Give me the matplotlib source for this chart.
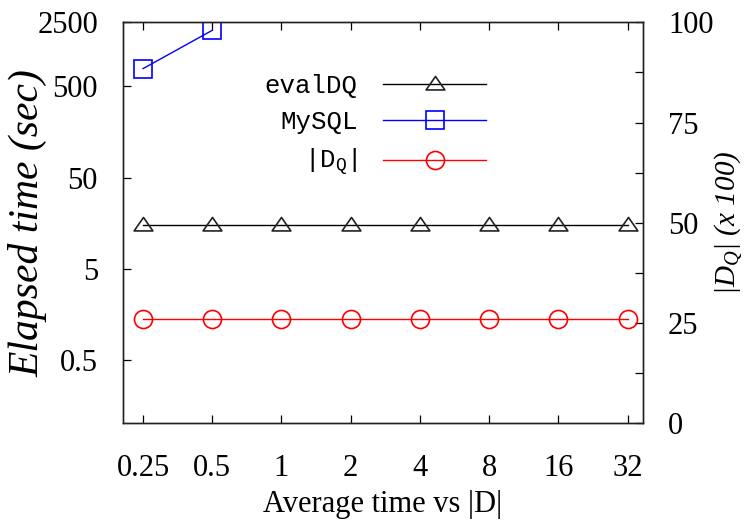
import matplotlib
matplotlib.use("Agg")
import matplotlib.pyplot as plt
from matplotlib.path import Path
from matplotlib.ticker import FixedLocator, NullFormatter

plt.rcParams["font.family"] = ["Liberation Serif", "DejaVu Serif"]
plt.rcParams["mathtext.fontset"] = "custom"
plt.rcParams["mathtext.rm"] = "Liberation Serif"
plt.rcParams["mathtext.it"] = "Liberation Serif:italic"
plt.rcParams["mathtext.tt"] = "Liberation Mono"

# data
x_labels = ["0.25", "0.5", "1", "2", "4", "8", "16", "32"]
evaldq_sec = [15, 15, 15, 15, 15, 15, 15, 15]
mysql_sec = [780, 2050]            # only the first two sizes finished
dq_size = [26, 26, 26, 26, 26, 26, 26, 26]   # right axis, x 100

left_ticks = [0.5, 5, 50, 500, 2500]
right_ticks = [0, 25, 50, 75, 100]

xs = list(range(len(x_labels)))

# flat gnuplot-style triangle
tri = Path([(-1, -0.58), (1, -0.58), (0, 0.86), (-1, -0.58)],
           [Path.MOVETO, Path.LINETO, Path.LINETO, Path.CLOSEPOLY])

fig = plt.figure(figsize=(7.45, 5.22), dpi=100)
ax = fig.add_axes([0.165, 0.190, 0.698, 0.767])
ax2 = ax.twinx()

ms = 13
mew = 1.2
lw = 1.0
l1, = ax.plot(xs, evaldq_sec, color="black", lw=lw, marker=tri, ms=ms + 0.5,
              mfc="none", mec="#222222", mew=mew)
l2, = ax.plot(xs[:len(mysql_sec)], mysql_sec, color="#0000ff", lw=lw, marker="s",
              ms=ms, mfc="none", mec="#0000ff", mew=mew)
l3, = ax2.plot(xs, dq_size, color="#ff0000", lw=lw, marker="o", ms=ms,
               mfc="none", mec="#ff0000", mew=mew)

ax.set_yscale("log")
ax.set_ylim(0.103, 2500)
ax.set_xlim(-0.29, 7.22)
ax.yaxis.set_major_locator(FixedLocator(left_ticks))
ax.yaxis.set_minor_locator(FixedLocator([]))
ax.yaxis.set_minor_formatter(NullFormatter())
ax.set_yticklabels([f"{t:g}" for t in left_ticks])
ax.set_xticks(xs)
ax.set_xticklabels(x_labels)

ax2.set_ylim(0, 100)
ax2.set_yticks(right_ticks)
ax2.set_yticks([12.5, 37.5, 62.5, 87.5], minor=True)

ax.tick_params(axis="x", which="both", direction="in", top=True, length=6,
               width=0.9, pad=22.5, labelsize=22)
ax.tick_params(axis="y", which="both", direction="in", right=False, length=6,
               width=0.9, pad=18, labelsize=22)
ax2.tick_params(axis="y", which="both", direction="in", length=6,
                width=0.9, pad=18, labelsize=22)

for a in (ax, ax2):
    for s in a.spines.values():
        s.set_linewidth(1.0)
        s.set_color("#222222")

ax.set_xlabel("Average time vs |D|", fontsize=22, labelpad=5)
ax.set_ylabel("Elapsed time (sec)", fontsize=30, fontstyle="italic")
ax.yaxis.set_label_coords(-0.146, 0.50)
ax2.set_ylabel("|D$_Q$| (x 100)", fontsize=21, fontstyle="italic")
ax2.yaxis.set_label_coords(1.134, 0.5)

leg = ax.legend([l1, l2, l3], ["evalDQ", "MySQL", "|D$_\\mathtt{Q}$|"],
                loc="upper left", bbox_to_anchor=(0.228, 0.93),
                markerfirst=False, frameon=False, handlelength=4.0,
                handletextpad=1.0, labelspacing=0.5,
                prop={"family": "Liberation Mono", "size": 18.5})

fig.savefig("out.png", dpi=100)
